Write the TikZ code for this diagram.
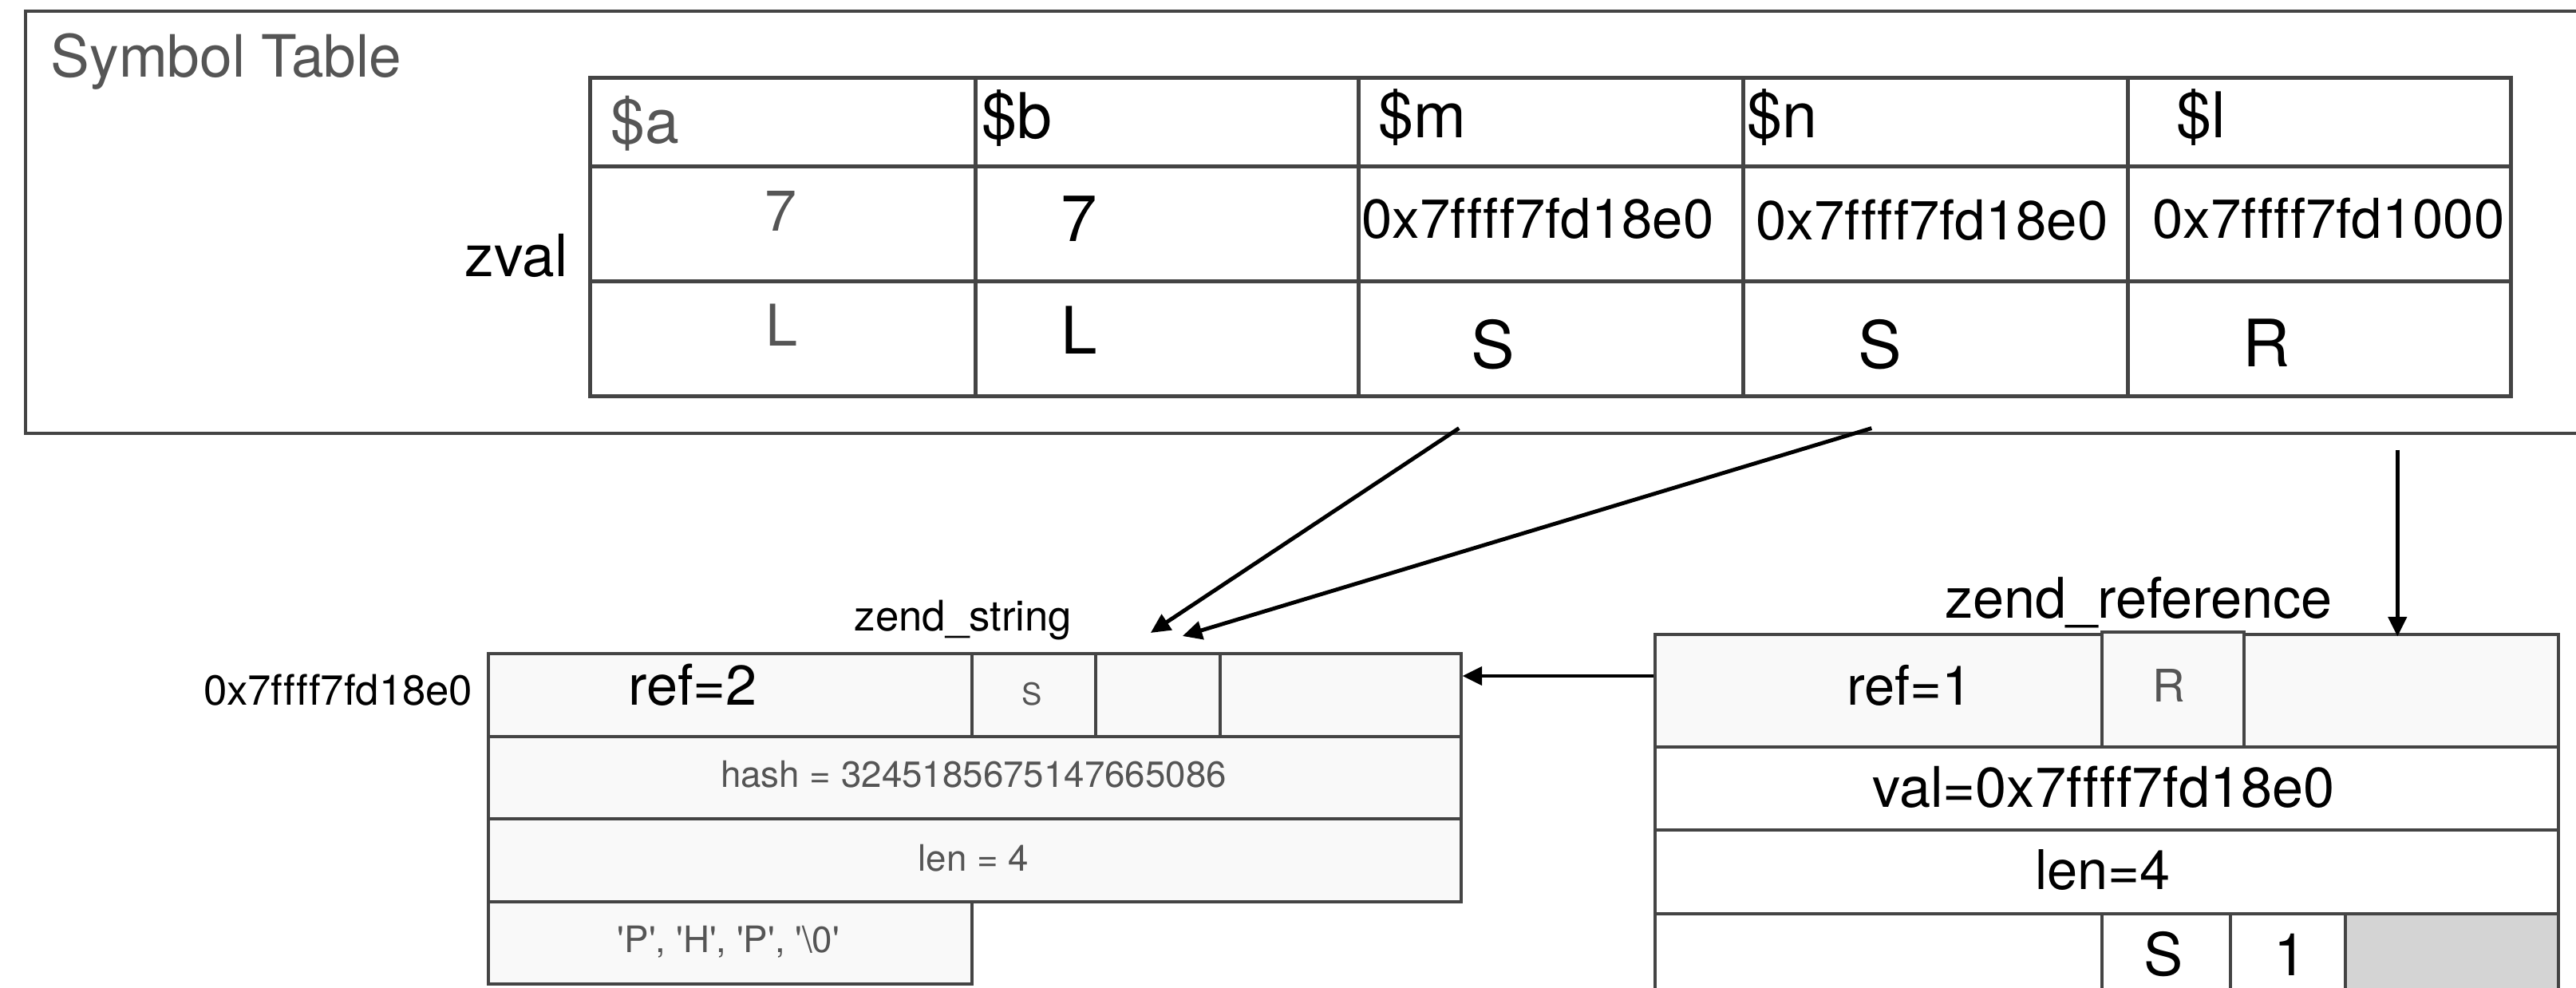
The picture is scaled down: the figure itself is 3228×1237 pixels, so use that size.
\documentclass[tikz,border=0pt]{standalone}
\usepackage{fontspec}
\setmainfont[Ligatures=NoCommon]{TeX Gyre Heros}
\usetikzlibrary{arrows.meta}
\definecolor{boxgray}{HTML}{444444}
\definecolor{inkgray}{HTML}{555555}
\definecolor{fillgray}{HTML}{F9F9F9}
\definecolor{padgray}{HTML}{D4D4D4}

\begin{document}
\begin{tikzpicture}[x=0.1mm,y=-0.1mm,inner sep=0pt,
  frame/.style={draw=boxgray,line width=1.1pt},
  cell/.style={draw=boxgray,line width=1pt,anchor=north west},
  slot/.style={cell,line width=1.3pt},
  field/.style={cell,fill=fillgray},
  graytext/.style={text=inkgray},
  fs/.style={font=\fontsize{#1}{#1}\selectfont},
  ptr/.style={-{Triangle[length=7pt,width=6.5pt]},line width=1.4pt}]
\useasboundingbox (0,0) rectangle (3228,1237);
% symbol table
\draw[frame] (3228,14) -| (32,543) -- (3228,543);
\node[graytext,fs=20.8,anchor=base west] (symtitle) at (63,96) {Symbol Table};
\node[fs=20.8,anchor=base east] (zval) at (712,346) {zval};
\node[slot,minimum width=48.3mm,minimum height=11.1mm] (a1) at (737,95) {};
\node[slot,minimum width=48.0mm,minimum height=11.1mm] (b1) at (1220,95) {};
\node[slot,minimum width=48.2mm,minimum height=11.1mm] (m1) at (1700,95) {};
\node[slot,minimum width=48.2mm,minimum height=11.1mm] (n1) at (2182,95) {};
\node[slot,minimum width=48.0mm,minimum height=11.1mm] (l1) at (2664,95) {};
\node[slot,minimum width=48.3mm,minimum height=14.4mm] (a2) at (737,206) {};
\node[slot,minimum width=48.0mm,minimum height=14.4mm] (b2) at (1220,206) {};
\node[slot,minimum width=48.2mm,minimum height=14.4mm] (m2) at (1700,206) {};
\node[slot,minimum width=48.2mm,minimum height=14.4mm] (n2) at (2182,206) {};
\node[slot,minimum width=48.0mm,minimum height=14.4mm] (l2) at (2664,206) {};
\node[slot,minimum width=48.3mm,minimum height=14.4mm] (a3) at (737,350) {};
\node[slot,minimum width=48.0mm,minimum height=14.4mm] (b3) at (1220,350) {};
\node[slot,minimum width=48.2mm,minimum height=14.4mm] (m3) at (1700,350) {};
\node[slot,minimum width=48.2mm,minimum height=14.4mm] (n3) at (2182,350) {};
\node[slot,minimum width=48.0mm,minimum height=14.4mm] (l3) at (2664,350) {};
\node[graytext,fs=21.9,anchor=base west] (aname) at (765,179) {\$a};
\node[fs=22.5,anchor=base west] (bname) at (1230,173) {\$b};
\node[fs=22.5,anchor=base west] (mname) at (1727,172) {\$m};
\node[fs=22.5,anchor=base west] (nname) at (2189,172) {\$n};
\node[fs=22.5,anchor=base west] (lname) at (2727,172) {\$l};
\node[graytext,fs=20.5,anchor=base] (anum) at (979,289) {7};
\node[fs=23.3,anchor=base] (bnum) at (1352,302) {7};
\node[fs=19.6,anchor=base] (maddr) at (1927,298) {0x7ffff7fd18e0};
\node[fs=19.6,anchor=base] (naddr) at (2421,300) {0x7ffff7fd18e0};
\node[fs=19.6,anchor=base] (laddr) at (2918,298) {0x7ffff7fd1000};
\node[graytext,fs=20.5,anchor=base] (atype) at (980,433) {L};
\node[fs=23.3,anchor=base] (btype) at (1352,443) {L};
\node[fs=23.3,anchor=base] (mtype) at (1871,461) {S};
\node[fs=23.3,anchor=base] (ntype) at (2356,461) {S};
\node[fs=23.3,anchor=base] (ltype) at (2840,459) {R};
% zend_string
\node[fs=15,anchor=base] (strtitle) at (1207,790) {zend\_string};
\node[fs=15,anchor=base east] (straddr) at (593,883) {0x7ffff7fd18e0};
\node[field,minimum width=60.6mm,minimum height=10.4mm] (sref) at (610,817) {};
\node[field,minimum width=15.5mm,minimum height=10.4mm] (sflag) at (1216,817) {};
\node[field,minimum width=15.6mm,minimum height=10.4mm] (shole) at (1371,817) {};
\node[field,minimum width=30.2mm,minimum height=10.4mm] (srest) at (1527,817) {};
\node[field,minimum width=121.9mm,minimum height=10.3mm] (shash) at (610,921) {};
\node[field,minimum width=121.9mm,minimum height=10.4mm] (slen) at (610,1024) {};
\node[field,minimum width=60.6mm,minimum height=10.3mm] (schars) at (610,1128) {};
\node[fs=20,anchor=base] (srefcount) at (868,883) {ref=2};
\node[graytext,fs=10.8,anchor=base] (sflagtxt) at (1293,883) {S};
\node[graytext,fs=13,anchor=base] (shashtxt) at (1220,986) {hash = 3245185675147665086};
\node[graytext,fs=13,anchor=base] (slentxt) at (1220,1091) {len = 4};
\node[graytext,fs=13,anchor=base] (scharstxt) at (913,1193)
  {\textquotesingle P\textquotesingle, \textquotesingle H\textquotesingle, \textquotesingle P\textquotesingle, \textquotesingle\textbackslash 0\textquotesingle};
% zend_reference
\node[fs=20,anchor=base] (reftitle) at (2680,774) {zend\_reference};
\node[field,minimum width=56mm,minimum height=14.1mm] (rref) at (2072,793) {};
\node[field,minimum width=39.4mm,minimum height=14.1mm] (rrest) at (2810,793) {};
\node[field,line width=1.2pt,minimum width=17.8mm,minimum height=14.4mm] (rflag) at (2632,790) {};
\node[cell,minimum width=113.2mm,minimum height=10.4mm] (rval) at (2072,934) {};
\node[cell,minimum width=113.2mm,minimum height=10.5mm] (rlen) at (2072,1038) {};
\node[cell,minimum width=56mm,minimum height=10.4mm] (rpad) at (2072,1143) {};
\node[cell,minimum width=16.1mm,minimum height=10.4mm] (rtype) at (2632,1143) {};
\node[cell,minimum width=14.4mm,minimum height=10.4mm] (rnum) at (2793,1143) {};
\node[cell,fill=padgray,minimum width=26.7mm,minimum height=10.4mm] (rgap) at (2937,1143) {};
\node[fs=19.5,anchor=base] (rrefcount) at (2393,883) {ref=1};
\node[graytext,fs=16,anchor=base] (rflagtxt) at (2718,879) {R};
\node[fs=20,anchor=base] (rvaltxt) at (2636,1011) {val=0x7ffff7fd18e0};
\node[fs=19.5,anchor=base] (rlentxt) at (2635,1114) {len=4};
\node[fs=21,anchor=base] (rtypetxt) at (2711,1222) {S};
\node[fs=21,anchor=base] (rnumtxt) at (2870,1222) {1};
% pointers
\coordinate (refport) at (2072,847);
\draw[ptr] ([xshift=-11.5mm,yshift=-3.8mm]m3.south) -- ([xshift=-0.9mm,yshift=2.4mm]shole.north);
\draw[ptr] ([xshift=-8mm,yshift=-3.8mm]n3.south) -- ([xshift=3.1mm,yshift=2mm]shole.north);
\draw[ptr] ([xshift=9.8mm,yshift=-6.5mm]l3.south) -- ++(0,234);
\draw[ptr] (refport) -- (srest.east |- refport);
\end{tikzpicture}
\end{document}
